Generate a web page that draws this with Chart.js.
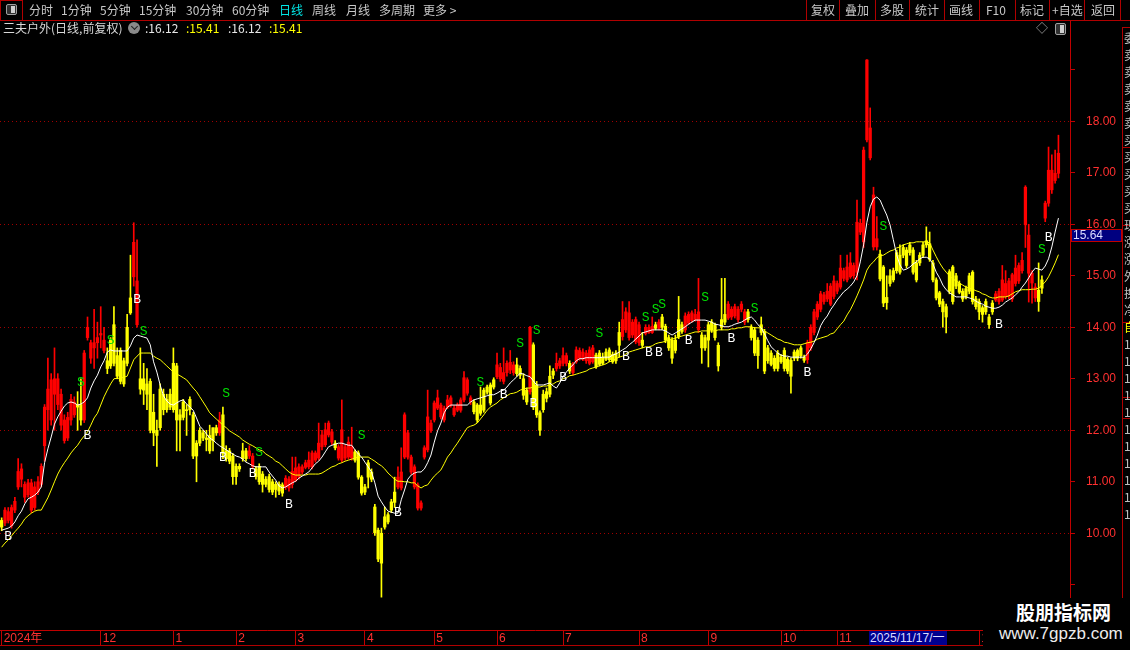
<!DOCTYPE html>
<html><head><meta charset="utf-8">
<script src="https://cdn.jsdelivr.net/npm/chart.js@4"></script>
<style>
html,body{margin:0;padding:0;background:#000;overflow:hidden;}
#wrap{position:relative;width:1130px;height:650px;background:#000;font-family:"Noto Sans CJK SC","Liberation Sans",sans-serif;overflow:hidden;}
#c{position:absolute;left:0;top:0;}
.t{position:absolute;white-space:nowrap;font-size:12px;line-height:14px;color:#c8c8c8;}
.ln{position:absolute;background:#b00000;}
</style></head>
<body>
<div id="wrap">
<canvas id="c" width="1130" height="650"></canvas>

<!-- toolbar -->
<div class="ln" style="left:0;top:20px;width:1130px;height:1px"></div>
<div style="position:absolute;left:0;top:0;width:23px;height:21px;box-sizing:border-box;border:1px solid #b00000"></div>
<div style="position:absolute;left:6px;top:4px;width:11px;height:11px;box-sizing:border-box;border:1px solid #a0a0a0;border-radius:2px;background:#303030"><div style="position:absolute;right:1px;top:1px;width:4px;height:7px;background:#d0d0d0"></div></div>
<div class="t" style="left:29px;top:3px">分时</div>
<div class="t" style="left:61px;top:3px">1分钟</div>
<div class="t" style="left:100px;top:3px">5分钟</div>
<div class="t" style="left:139px;top:3px">15分钟</div>
<div class="t" style="left:186px;top:3px">30分钟</div>
<div class="t" style="left:232px;top:3px">60分钟</div>
<div class="t" style="left:279px;top:3px;color:#00e6e6">日线</div>
<div class="t" style="left:312px;top:3px">周线</div>
<div class="t" style="left:346px;top:3px">月线</div>
<div class="t" style="left:379px;top:3px">多周期</div>
<div class="t" style="left:423px;top:3px">更多 &gt;</div>

<div class="ln" style="left:806px;top:0;width:1px;height:20px"></div>
<div class="ln" style="left:839px;top:0;width:1px;height:20px"></div>
<div class="ln" style="left:875px;top:0;width:1px;height:20px"></div>
<div class="ln" style="left:909px;top:0;width:1px;height:20px"></div>
<div class="ln" style="left:944px;top:0;width:1px;height:20px"></div>
<div class="ln" style="left:979px;top:0;width:1px;height:20px"></div>
<div class="ln" style="left:1015px;top:0;width:1px;height:20px"></div>
<div class="ln" style="left:1049px;top:0;width:1px;height:20px"></div>
<div class="ln" style="left:1084px;top:0;width:1px;height:20px"></div>
<div class="ln" style="left:1120px;top:0;width:1px;height:20px"></div>
<div class="t" style="left:811px;top:3px">复权</div>
<div class="t" style="left:845px;top:3px">叠加</div>
<div class="t" style="left:880px;top:3px">多股</div>
<div class="t" style="left:915px;top:3px">统计</div>
<div class="t" style="left:949px;top:3px">画线</div>
<div class="t" style="left:986px;top:3px">F10</div>
<div class="t" style="left:1020px;top:3px">标记</div>
<div class="t" style="left:1052px;top:3px">+自选</div>
<div class="t" style="left:1091px;top:3px">返回</div>

<!-- title row -->
<div class="t" style="left:3px;top:21px;color:#d8d8d8">三夫户外(日线,前复权)</div>
<div style="position:absolute;left:128px;top:22px;width:12px;height:12px;border-radius:6px;background:#8a8a8a"></div>
<div style="position:absolute;left:131px;top:23px;width:4px;height:4px;border-right:1.5px solid #222;border-bottom:1.5px solid #222;transform:translate(1px,1px) rotate(45deg)"></div>
<div class="t" style="left:145px;top:21px;color:#e8e8e8">:16.12</div>
<div class="t" style="left:186px;top:21px;color:#ffff00">:15.41</div>
<div class="t" style="left:228px;top:21px;color:#e8e8e8">:16.12</div>
<div class="t" style="left:269px;top:21px;color:#ffff00">:15.41</div>
<div class="t" style="left:1036px;top:21px;color:#a0a0a0">◇</div>
<div style="position:absolute;left:1055px;top:23px;width:11px;height:12px;box-sizing:border-box;border:1px solid #a0a0a0;border-radius:2px;background:#303030"><div style="position:absolute;right:1px;top:1px;width:4px;height:8px;background:#d0d0d0"></div></div>

<!-- axis panel extras -->
<div class="ln" style="left:1070px;top:630px;width:1px;height:16px"></div>
<div class="ln" style="left:0;top:645px;width:983px;height:1px"></div>
<div class="ln" style="left:1122px;top:27px;width:1px;height:619px"></div>
<div class="ln" style="left:1122px;top:27px;width:8px;height:1px"></div>
<div class="ln" style="left:1122px;top:147px;width:8px;height:1px"></div>
<div class="ln" style="left:1122px;top:225px;width:8px;height:1px"></div>
<div class="ln" style="left:1122px;top:322px;width:8px;height:1px"></div>
<div class="ln" style="left:1122px;top:397px;width:8px;height:1px"></div>
<div class="ln" style="left:1122px;top:418px;width:8px;height:1px"></div>
<div style="position:absolute;left:1124px;top:29px;width:6px;height:600px;overflow:hidden;font-size:12px;line-height:17px;color:#c0c0c0;white-space:pre">委
卖
卖
卖
卖
卖
买
买
买
买
买
现
涨
涨
外
换
净
<span style="color:#ffff00">自</span>
1
1
1
1
1
1
1
1
1
1
1</div>

<div style="position:absolute;left:1071px;top:229px;width:51px;height:13px;box-sizing:border-box;background:#000080;border:1px solid #c00000;color:#dcdcff;font:12px/11px 'Liberation Sans',sans-serif;padding-left:1px">15.64</div>
<div style="position:absolute;left:869px;top:631px;width:77px;height:14px;background:#000090;color:#dcdcff;font:12px/14px 'Liberation Sans','Noto Sans CJK SC',sans-serif;padding-left:1px;white-space:nowrap;overflow:hidden">2025/11/17/一</div>

<!-- watermark -->
<div style="position:absolute;left:983px;top:598px;width:147px;height:52px;background:#000"></div>
<div style="position:absolute;left:1016px;top:601px;font:bold 19px/22px 'Noto Sans CJK SC',sans-serif;color:#ffffff;white-space:nowrap">股朋指标网</div>
<div style="position:absolute;left:999px;top:624px;font:17px/20px 'Liberation Sans',sans-serif;color:#ececec;white-space:nowrap">www.7gpzb.com</div>
</div>

<script>
const opens = [
10.25,10.20,10.25,10.15,10.45,10.90,11.05,10.70,10.75,10.45,
10.50,10.80,10.95,11.70,12.40,12.20,12.70,12.50,12.10,11.80,
11.85,12.20,12.30,12.50,12.50,12.20,13.80,13.40,13.60,13.70,
13.85,13.55,13.35,13.75,14.05,13.45,13.55,13.35,14.00,14.57,
14.98,14.05,13.00,13.00,12.90,12.95,12.35,12.00,12.80,12.70,
12.60,12.70,13.30,13.25,12.30,12.55,12.40,12.60,12.30,11.75,
12.00,11.95,11.85,11.90,12.05,12.05,11.95,12.30,11.60,11.60,
11.50,11.30,11.30,11.60,11.60,11.50,11.30,11.25,11.30,11.15,
11.05,11.10,11.00,10.95,10.95,10.94,10.90,10.88,10.95,11.03,
11.09,11.19,11.28,11.29,11.29,11.42,11.46,11.68,11.72,11.91,
11.77,11.75,11.46,11.42,11.46,11.48,11.46,11.58,11.56,11.09,
10.90,11.37,11.19,10.51,10.06,10.00,10.32,10.36,10.61,10.80,
10.90,10.88,11.48,11.48,11.19,10.90,10.49,10.49,11.48,11.62,
12.00,12.20,12.43,12.26,12.20,12.45,12.49,12.30,12.39,12.39,
12.59,12.72,12.55,12.55,12.49,12.49,12.78,12.84,12.88,12.98,
13.04,13.00,12.95,13.12,13.17,13.12,13.27,13.20,13.00,12.78,
12.75,13.66,12.88,12.34,12.70,12.75,13.05,13.15,13.20,13.25,
13.30,13.30,13.30,13.12,13.33,13.40,13.38,13.35,13.30,13.33,
13.46,13.50,13.42,13.52,13.56,13.47,13.50,13.90,13.82,13.95,
13.80,13.85,13.72,13.70,13.75,13.88,13.90,13.90,14.05,13.98,
14.20,14.02,13.80,13.75,13.75,14.15,14.05,13.95,14.08,14.13,
14.15,13.95,13.85,13.80,14.05,14.10,14.05,13.65,14.15,14.25,
14.18,14.20,14.22,14.15,14.35,14.10,14.30,14.00,13.95,13.75,
14.05,13.92,13.60,13.50,13.40,13.50,13.42,13.55,13.38,13.36,
13.52,13.55,13.60,13.42,13.37,13.60,13.90,14.20,14.35,14.50,
14.55,14.45,14.60,14.70,14.78,14.95,14.92,14.98,15.00,15.07,
15.85,15.66,17.64,17.29,15.56,15.56,15.42,15.17,14.58,15.00,
15.10,15.45,15.40,15.55,15.50,15.60,15.50,15.25,15.40,15.60,
15.68,15.62,15.25,14.92,14.67,14.50,14.40,15.08,15.17,15.00,
14.85,14.70,14.75,15.00,15.07,14.55,14.50,14.38,14.50,14.20,
14.47,14.53,14.50,14.53,14.60,14.60,14.55,14.85,14.90,15.10,
15.99,15.05,14.86,14.57,14.72,14.92,16.12,16.41,16.67,16.85,16.99];
const highs = [
10.30,10.50,10.50,10.55,10.70,11.45,11.35,11.00,11.05,11.05,
11.00,11.10,11.35,12.50,13.40,13.10,13.60,13.10,12.80,12.30,
12.35,12.70,12.65,12.75,13.00,13.55,14.20,13.75,14.35,14.10,
14.40,14.00,13.60,13.80,14.40,13.60,13.60,13.40,14.25,15.40,
16.03,15.70,13.60,13.30,13.20,13.00,12.70,12.20,12.90,12.80,
12.70,12.80,13.60,13.30,12.40,12.60,12.50,12.65,12.35,11.80,
12.05,12.00,12.00,12.10,12.05,12.10,12.35,12.45,11.70,11.65,
11.55,11.35,11.35,11.75,11.65,11.70,11.55,11.30,11.35,11.20,
11.10,11.15,11.05,11.00,11.00,10.98,11.12,11.10,11.48,11.48,
11.35,11.33,11.42,11.58,11.60,11.60,12.14,12.00,12.14,12.18,
12.02,11.80,11.72,12.59,11.72,11.87,12.06,11.62,11.60,11.12,
10.95,11.42,11.25,10.56,10.10,10.10,10.51,10.40,10.66,11.09,
11.29,11.66,12.34,12.00,11.52,11.33,10.98,10.63,11.70,12.78,
12.20,12.57,12.78,12.53,12.47,12.68,12.67,12.48,12.53,12.63,
13.14,13.02,12.67,12.59,12.52,12.84,12.82,12.88,12.92,13.02,
13.50,13.30,13.60,13.35,13.55,13.33,13.40,13.25,13.10,12.82,
14.02,13.70,12.95,12.38,12.78,12.82,13.25,13.20,13.50,13.40,
13.60,13.50,13.35,13.32,13.62,13.60,13.58,13.55,13.62,13.65,
13.50,13.55,13.50,13.58,13.60,13.52,13.55,14.10,14.50,14.38,
14.50,14.15,14.20,14.10,13.90,14.05,14.05,14.20,14.10,14.15,
14.25,14.06,13.85,13.80,13.85,14.60,14.10,14.28,14.30,14.32,
14.35,14.95,13.90,13.85,14.10,14.15,14.08,13.70,14.95,14.95,
14.50,14.40,14.45,14.40,14.50,14.35,14.35,14.05,14.00,13.80,
14.20,13.96,13.65,13.55,13.45,13.55,13.47,13.60,13.42,13.40,
13.56,13.58,13.64,13.46,13.75,14.05,14.35,14.50,14.70,14.68,
14.85,14.85,15.00,14.90,15.40,15.15,15.40,15.45,15.25,16.47,
16.10,17.50,19.20,18.26,16.72,16.15,15.50,15.20,15.00,15.12,
15.15,15.50,15.60,15.60,15.55,15.65,15.55,15.30,15.45,15.65,
15.95,15.85,15.30,14.96,14.70,14.55,14.45,15.12,15.20,15.05,
14.90,14.75,14.80,15.05,15.10,14.60,14.55,14.42,14.55,14.25,
14.52,14.70,14.75,15.20,15.10,14.95,15.05,15.40,15.25,15.45,
16.75,16.00,15.10,14.85,15.25,15.00,16.45,17.50,17.35,17.44,17.73];
const lows = [
10.05,10.15,10.20,10.10,10.40,10.85,10.90,10.60,10.70,10.40,
10.45,10.75,10.90,11.40,12.00,12.10,12.00,12.40,12.00,11.75,
11.80,12.10,12.25,12.00,12.10,12.15,13.75,13.30,13.20,13.40,
13.60,13.50,13.10,13.20,13.25,13.00,12.90,12.85,13.25,14.25,
14.80,14.00,12.70,12.50,12.40,11.95,11.70,11.30,12.00,12.30,
12.35,12.40,12.35,11.60,11.60,12.20,11.90,12.30,11.45,11.00,
11.70,11.80,11.60,11.55,11.60,11.90,11.90,11.45,11.40,11.35,
10.95,10.95,11.20,11.40,11.40,11.45,11.25,11.05,10.95,10.80,
10.90,10.80,10.75,10.70,10.75,10.72,10.85,10.82,10.88,11.00,
11.05,11.15,11.25,11.25,11.25,11.38,11.42,11.62,11.68,11.87,
11.72,11.62,11.42,11.38,11.42,11.44,11.42,11.38,11.05,10.74,
10.75,10.88,11.00,9.96,9.45,8.76,10.08,10.18,10.40,10.50,
10.86,10.84,11.45,11.44,11.15,10.86,10.45,10.45,11.44,11.58,
11.96,12.16,12.40,12.22,12.16,12.42,12.45,12.27,12.36,12.35,
12.55,12.68,12.50,12.32,12.15,12.29,12.35,12.70,12.49,12.80,
13.00,12.95,12.90,13.05,13.10,13.07,13.05,13.00,12.60,12.50,
12.70,12.40,12.25,11.90,12.35,12.55,12.65,13.00,13.15,13.20,
13.25,13.25,13.10,13.08,13.30,13.36,13.35,13.30,13.27,13.30,
13.20,13.25,13.27,13.35,13.33,13.30,13.30,13.42,13.75,13.90,
13.75,13.80,13.68,13.65,13.60,13.85,13.88,13.88,13.95,13.95,
13.96,13.70,13.55,13.30,13.50,13.78,13.88,13.90,14.05,14.10,
14.12,13.90,13.30,13.55,13.23,13.90,13.75,13.15,13.95,14.05,
14.15,14.15,14.18,14.10,14.30,14.05,14.10,13.75,13.45,13.20,
13.85,13.10,13.30,13.25,13.15,13.15,13.30,13.15,13.10,12.72,
13.35,13.35,13.40,13.32,13.30,13.55,13.85,14.15,14.30,14.45,
14.50,14.42,14.55,14.65,14.74,14.90,14.88,14.95,14.95,14.92,
15.80,15.55,17.60,17.25,15.50,15.50,14.90,14.40,14.35,14.80,
14.88,15.05,15.03,15.35,15.15,15.40,15.03,14.88,15.20,15.35,
15.55,15.28,14.88,14.53,14.40,14.00,13.89,14.65,14.45,14.75,
14.65,14.50,14.55,14.65,14.45,14.35,14.15,14.10,14.25,13.98,
14.25,14.50,14.45,14.50,14.55,14.55,14.50,14.80,14.85,15.05,
15.55,14.49,14.47,14.50,14.31,14.66,16.05,16.35,16.60,16.80,16.90];
const closes = [
10.12,10.45,10.42,10.50,10.62,11.20,11.25,10.95,10.98,10.98,
10.90,11.00,11.30,12.45,12.80,12.98,13.00,13.00,12.70,12.20,
12.25,12.60,12.55,12.45,12.20,13.50,14.00,13.70,13.70,13.80,
13.88,13.75,13.20,13.25,13.30,13.05,12.95,12.90,13.30,14.28,
15.65,14.90,12.80,12.78,12.70,12.00,11.95,11.90,12.05,12.40,
12.40,12.45,12.40,12.20,12.20,12.25,12.38,12.40,11.50,11.50,
11.75,11.85,11.82,11.60,11.80,11.95,12.20,11.55,11.45,11.40,
11.10,11.10,11.25,11.45,11.45,11.60,11.50,11.10,11.00,10.95,
10.95,10.85,10.80,10.85,10.82,10.78,11.07,11.05,11.20,11.27,
11.29,11.29,11.37,11.42,11.56,11.56,11.75,11.91,12.01,12.14,
11.97,11.66,11.68,12.01,11.68,11.77,11.68,11.42,11.09,10.78,
10.80,11.09,11.05,10.01,9.50,9.42,10.12,10.22,10.45,10.60,
11.09,11.19,12.30,11.95,11.48,11.29,10.94,10.59,11.66,12.26,
12.14,12.53,12.63,12.49,12.43,12.59,12.63,12.43,12.49,12.59,
13.02,12.98,12.63,12.36,12.20,12.33,12.39,12.74,12.53,12.84,
13.27,13.22,13.12,13.30,13.32,13.27,13.10,13.07,12.68,12.55,
14.00,12.45,12.30,12.00,12.40,12.62,12.70,13.07,13.30,13.35,
13.45,13.45,13.15,13.28,13.56,13.55,13.52,13.50,13.56,13.60,
13.23,13.28,13.30,13.38,13.37,13.33,13.35,13.65,14.15,14.30,
14.28,14.10,14.15,14.05,13.65,14.00,14.00,14.02,13.98,14.10,
14.00,13.75,13.60,13.40,13.55,13.82,13.92,14.22,14.25,14.28,
14.25,14.30,13.60,13.60,13.75,13.95,13.80,13.25,14.00,14.10,
14.45,14.35,14.40,14.35,14.45,14.30,14.15,13.80,13.50,13.45,
13.90,13.15,13.35,13.28,13.20,13.20,13.33,13.20,13.15,13.05,
13.40,13.40,13.45,13.36,13.70,14.00,14.30,14.45,14.65,14.63,
14.70,14.80,14.90,14.85,15.15,15.10,15.17,15.25,15.20,16.04,
16.02,17.44,19.19,17.87,16.57,15.72,14.94,14.47,14.48,14.85,
14.92,15.10,15.07,15.40,15.20,15.45,15.07,14.92,15.25,15.40,
15.60,15.32,14.92,14.57,14.45,14.30,14.20,14.70,14.50,14.80,
14.68,14.55,14.60,14.70,14.50,14.40,14.30,14.25,14.30,14.05,
14.30,14.65,14.70,14.92,14.85,14.90,15.02,15.15,15.20,15.30,
16.72,15.79,15.05,14.78,14.50,14.76,16.41,17.05,17.05,16.99,17.38];
const fastLine = [
10.06,10.08,10.10,10.14,10.22,10.34,10.43,10.57,10.67,10.70,
10.74,10.80,10.90,11.37,11.64,11.87,12.12,12.26,12.37,12.47,
12.53,12.55,12.53,12.49,12.51,12.55,12.63,12.82,12.96,13.07,
13.23,13.35,13.52,13.56,13.54,13.54,13.54,13.54,13.54,13.64,
13.79,13.85,13.83,13.81,13.79,13.66,13.33,13.13,12.88,12.67,
12.57,12.51,12.49,12.53,12.57,12.59,12.51,12.45,12.39,12.24,
12.08,12.01,11.93,11.85,11.81,11.75,11.70,11.66,11.62,11.58,
11.54,11.50,11.48,11.44,11.38,11.35,11.31,11.29,11.29,11.29,
11.29,11.19,11.11,11.03,10.92,10.88,10.90,10.94,10.98,11.01,
11.07,11.11,11.15,11.19,11.27,11.35,11.40,11.48,11.58,11.68,
11.71,11.73,11.75,11.75,11.73,11.71,11.71,11.62,11.54,11.48,
11.38,11.29,11.19,10.98,10.72,10.61,10.51,10.43,10.41,10.39,
10.39,10.65,10.84,11.05,11.13,11.17,11.19,11.19,11.25,11.37,
11.52,11.77,11.99,12.14,12.34,12.45,12.49,12.49,12.49,12.49,
12.49,12.49,12.55,12.59,12.61,12.63,12.65,12.67,12.69,12.69,
12.72,12.76,12.78,12.84,12.92,12.98,13.04,13.11,13.09,13.06,
13.04,12.96,12.88,12.88,12.88,12.90,12.92,12.86,12.82,12.92,
13.04,13.13,13.21,13.27,13.35,13.39,13.39,13.41,13.41,13.41,
13.41,13.41,13.42,13.42,13.42,13.46,13.48,13.52,13.56,13.60,
13.66,13.71,13.77,13.83,13.89,13.91,13.93,13.95,13.95,13.95,
13.95,13.93,13.89,13.85,13.89,13.93,13.97,14.01,14.06,14.10,
14.14,14.14,14.14,14.14,14.12,14.10,14.06,14.05,14.03,14.01,
14.01,14.03,14.06,14.08,14.10,14.14,14.18,14.20,14.14,14.05,
13.99,13.87,13.74,13.62,13.56,13.50,13.46,13.44,13.44,13.42,
13.42,13.42,13.42,13.42,13.48,13.58,13.70,13.85,14.03,14.14,
14.22,14.34,14.43,14.53,14.61,14.69,14.74,14.80,14.88,15.00,
15.27,15.60,16.04,16.34,16.49,16.53,16.47,16.32,16.18,15.99,
15.70,15.41,15.21,15.11,15.13,15.17,15.23,15.27,15.33,15.36,
15.36,15.33,15.23,15.07,14.96,14.82,14.73,14.67,14.63,14.59,
14.59,14.59,14.59,14.57,14.55,14.51,14.47,14.45,14.41,14.39,
14.37,14.37,14.39,14.43,14.49,14.53,14.57,14.63,14.69,14.78,
14.86,14.96,15.07,15.15,15.13,15.11,15.19,15.33,15.56,15.85,16.12];
const slowLine = [
9.73,9.81,9.87,9.95,10.03,10.10,10.18,10.28,10.34,10.39,
10.43,10.45,10.45,10.57,10.69,10.84,11.00,11.15,11.27,11.37,
11.46,11.56,11.64,11.71,11.81,11.89,11.97,12.10,12.24,12.33,
12.49,12.65,12.78,12.90,13.00,13.01,13.01,13.03,13.05,13.21,
13.37,13.44,13.50,13.50,13.50,13.50,13.44,13.40,13.37,13.31,
13.25,13.19,13.13,13.09,13.06,13.02,12.98,12.90,12.82,12.75,
12.65,12.55,12.45,12.34,12.28,12.22,12.16,12.10,12.05,11.99,
11.95,11.91,11.87,11.81,11.77,11.73,11.70,11.66,11.62,11.60,
11.54,11.50,11.46,11.40,11.37,11.31,11.25,11.19,11.15,11.13,
11.13,11.13,11.13,11.15,11.15,11.15,11.15,11.17,11.21,11.25,
11.29,11.31,11.35,11.37,11.40,11.42,11.44,11.46,11.48,11.48,
11.48,11.48,11.44,11.40,11.35,11.31,11.25,11.17,11.11,11.05,
11.01,11.01,11.00,11.00,10.98,10.98,10.92,10.88,10.92,10.94,
11.03,11.11,11.17,11.23,11.35,11.48,11.56,11.66,11.75,11.85,
11.95,12.05,12.08,12.10,12.14,12.22,12.30,12.39,12.45,12.49,
12.53,12.59,12.63,12.67,12.71,12.72,12.74,12.78,12.80,12.82,
12.82,12.84,12.84,12.84,12.86,12.86,12.88,12.90,12.94,12.96,
13.00,13.02,13.06,13.07,13.09,13.11,13.13,13.15,13.19,13.21,
13.23,13.25,13.27,13.29,13.33,13.35,13.39,13.42,13.44,13.48,
13.52,13.54,13.56,13.58,13.60,13.62,13.62,13.64,13.68,13.70,
13.71,13.73,13.75,13.77,13.79,13.81,13.83,13.85,13.87,13.89,
13.91,13.91,13.93,13.93,13.93,13.93,13.93,13.95,13.95,13.95,
13.95,13.97,13.97,13.99,13.99,14.01,14.01,14.01,13.99,13.99,
13.99,13.93,13.89,13.85,13.81,13.77,13.75,13.71,13.70,13.68,
13.66,13.66,13.66,13.68,13.70,13.71,13.73,13.77,13.79,13.81,
13.83,13.87,13.89,13.97,14.05,14.12,14.24,14.34,14.47,14.61,
14.76,14.92,15.11,15.21,15.27,15.35,15.39,15.40,15.44,15.48,
15.50,15.54,15.56,15.60,15.62,15.64,15.64,15.66,15.66,15.66,
15.66,15.64,15.50,15.37,15.25,15.15,15.07,15.00,14.94,14.90,
14.86,14.82,14.78,14.76,14.74,14.71,14.69,14.65,14.63,14.59,
14.57,14.57,14.59,14.59,14.59,14.61,14.65,14.69,14.71,14.73,
14.73,14.73,14.74,14.74,14.76,14.82,14.88,14.98,15.11,15.25,15.41];

const monthTickIdx  = [0, 30, 52, 71, 89, 110, 131, 150, 170, 193, 214, 236, 253, 273, 296, 316];
const monthTickText = ['2024年','12','1','2','3','4','5','6','7','8','9','10','11','12','1','2'];
const priceTicks = [9, 10, 11, 12, 13, 14, 15, 16, 17, 18, 19];

const buyIdx   = [2, 26, 41, 67, 76, 87, 120, 152, 161, 170, 189, 196, 199, 208, 221, 244, 302, 317];
const buyPrice = [9.93, 11.89, 14.53, 11.48, 11.15, 10.55, 10.41, 12.70, 12.51, 13.02, 13.43, 13.50, 13.50, 13.75, 13.79, 13.13, 14.05, 15.74];
const sellIdx   = [24, 33, 43, 68, 78, 109, 145, 157, 162, 181, 195, 198, 200, 213, 228, 267, 315];
const sellPrice = [12.92, 13.74, 13.91, 12.72, 11.56, 11.89, 12.92, 13.68, 13.93, 13.87, 14.18, 14.34, 14.45, 14.57, 14.36, 15.95, 15.50];

const totalSlots = 324;
const yMin = 8.122, yMax = 19.967;

const slotLabels = new Array(totalSlots).fill('');
monthTickIdx.forEach((idx, k) => { slotLabels[idx] = monthTickText[k]; });
const bodies = opens.map((o, i) => [o, closes[i]]);
const wicks = lows.map((l, i) => [l, highs[i]]);
const candleColor = (ctx) => {
  const i = ctx.dataIndex;
  return closes[i] >= opens[i] ? '#ff0000' : '#ffff00';
};

const markerPlugin = {
  id: 'bsMarks',
  afterDatasetsDraw(chart) {
    const {ctx, scales: {x, y}} = chart;
    ctx.save();
    ctx.font = '13px "Liberation Mono", "DejaVu Sans Mono", monospace';
    ctx.textAlign = 'center';
    ctx.textBaseline = 'middle';
    ctx.fillStyle = '#ffffff';
    buyIdx.forEach((idx, k) => ctx.fillText('B', x.getPixelForValue(idx), y.getPixelForValue(buyPrice[k])));
    ctx.fillStyle = '#00e000';
    sellIdx.forEach((idx, k) => ctx.fillText('S', x.getPixelForValue(idx), y.getPixelForValue(sellPrice[k])));
    ctx.restore();
  }
};

Chart.defaults.font.family = '"Liberation Sans", "Noto Sans CJK SC", sans-serif';

new Chart(document.getElementById('c'), {
  type: 'bar',
  data: {
    labels: slotLabels,
    datasets: [
      {type: 'line', data: fastLine, borderColor: '#ffffff', borderWidth: 1, pointRadius: 0, tension: 0, order: 0},
      {type: 'line', data: slowLine, borderColor: '#ffff00', borderWidth: 1, pointRadius: 0, tension: 0, order: 1},
      {data: bodies, backgroundColor: candleColor, borderWidth: 0, barThickness: 2.6, minBarLength: 1, grouped: false, order: 2},
      {data: wicks, backgroundColor: candleColor, borderWidth: 0, barThickness: 1, grouped: false, order: 3}
    ]
  },
  options: {
    responsive: false,
    animation: false,
    devicePixelRatio: 1,
    events: [],
    layout: {padding: {left: 0, right: 7, top: 20, bottom: 5}},
    plugins: {legend: {display: false}, tooltip: {enabled: false}},
    scales: {
      x: {
        offset: true,
        afterFit(s) { s.height = 15; },
        afterBuildTicks(s) { s.ticks = monthTickIdx.map(v => ({value: v})); },
        ticks: {color: '#ff3030', font: {size: 12}, autoSkip: false, maxRotation: 0, minRotation: 0, align: 'start', padding: -14, labelOffset: 2},
        grid: {drawOnChartArea: false, offset: false, tickLength: 15, color: '#c00000', tickColor: '#c00000'},
        border: {color: '#c00000'}
      },
      y: {
        position: 'right',
        min: yMin, max: yMax,
        afterFit(s) { s.width = 53; },
        afterBuildTicks(s) { s.ticks = priceTicks.map(v => ({value: v})); },
        ticks: {color: '#ff3030', font: {size: 12}, padding: 11, autoSkip: false,
          callback: (v) => (v >= 10 && v <= 18) ? Number(v).toFixed(2) : ''},
        grid: {color: (ctx) => (ctx.tick && ctx.tick.value % 2 === 0) ? '#a00000' : 'rgba(0,0,0,0)', tickColor: '#c00000', tickLength: 5, lineWidth: 1},
        border: {color: '#c00000', dash: [1, 3]}
      }
    }
  },
  plugins: [markerPlugin]
});
</script>
</body></html>
